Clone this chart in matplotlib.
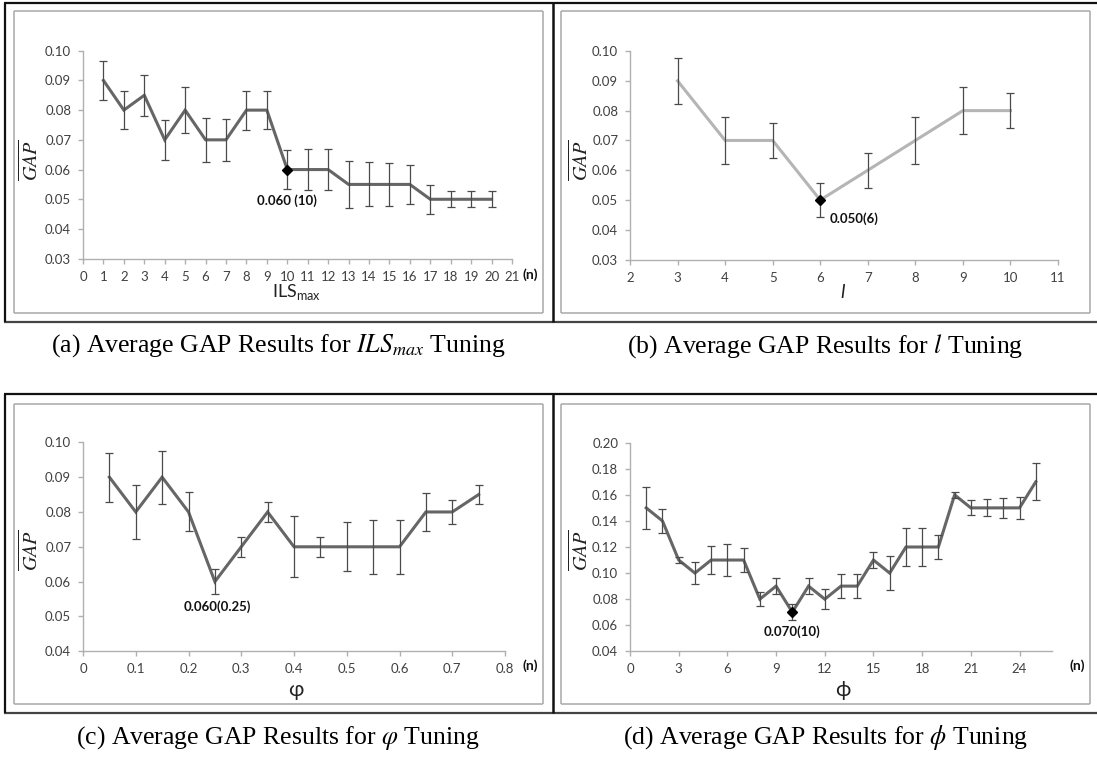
import matplotlib
matplotlib.use("Agg")
import matplotlib.pyplot as plt
from matplotlib.lines import Line2D
import numpy as np

W, H = 1097, 757

# ---------------- data ----------------
ils_x = list(range(1, 21))
ils_y = [0.09, 0.08, 0.085, 0.07, 0.08, 0.07, 0.07, 0.08, 0.08, 0.06,
         0.06, 0.06, 0.055, 0.055, 0.055, 0.055, 0.05, 0.05, 0.05, 0.05]
ils_err = [0.0065, 0.0065, 0.0069, 0.0067, 0.0078, 0.0073, 0.0071, 0.0066, 0.0063, 0.0066,
           0.0068, 0.0069, 0.0080, 0.0074, 0.0072, 0.0066, 0.0049, 0.0027, 0.0027, 0.0027]

l_x = [3, 4, 5, 6, 7, 8, 9, 10]
l_y = [0.09, 0.07, 0.07, 0.05, 0.06, 0.07, 0.08, 0.08]
l_err = [0.0077, 0.0078, 0.0059, 0.0058, 0.0059, 0.0078, 0.0078, 0.0058]

vphi_x = [0.05, 0.10, 0.15, 0.20, 0.25, 0.30, 0.35, 0.40, 0.45, 0.50, 0.55, 0.60, 0.65, 0.70, 0.75]
vphi_y = [0.09, 0.08, 0.09, 0.08, 0.06, 0.07, 0.08, 0.07, 0.07, 0.07, 0.07, 0.07, 0.08, 0.08, 0.085]
vphi_err = [0.0070, 0.0077, 0.0076, 0.0056, 0.0035, 0.0029, 0.0028, 0.0087, 0.0029, 0.0070,
            0.0077, 0.0077, 0.0055, 0.0035, 0.0028]

phi_x = list(range(1, 26))
phi_y = [0.15, 0.14, 0.11, 0.10, 0.11, 0.11, 0.11, 0.08, 0.09, 0.07, 0.09, 0.08, 0.09,
         0.09, 0.11, 0.10, 0.12, 0.12, 0.12, 0.16, 0.15, 0.15, 0.15, 0.15, 0.17]
phi_err = [0.0160, 0.0093, 0.0026, 0.0083, 0.0105, 0.0125, 0.0090, 0.0054, 0.0060, 0.0060,
           0.0060, 0.0077, 0.0092, 0.0092, 0.0063, 0.0128, 0.0147, 0.0143, 0.0090, 0.0023,
           0.0057, 0.0066, 0.0074, 0.0087, 0.0142]

ils_xticks = list(range(0, 22))
l_xticks = list(range(2, 12))
vphi_xticks = [0, 0.1, 0.2, 0.3, 0.4, 0.5, 0.6, 0.7, 0.8]
vphi_xticklabels = ["0", "0.1", "0.2", "0.3", "0.4", "0.5", "0.6", "0.7", "0.8"]
phi_xticks = [0, 3, 6, 9, 12, 15, 18, 21, 24]

fig = plt.figure(figsize=(W / 100, H / 100), dpi=100)

def fx(px):
    return px / W

def fy(py):
    return 1 - py / H

def hline(x0, x1, y, color, lw):
    fig.add_artist(Line2D([fx(x0), fx(x1)], [fy(y), fy(y)], color=color, lw=lw,
                          transform=fig.transFigure, solid_capstyle='butt'))

def vline(x, y0, y1, color, lw):
    fig.add_artist(Line2D([fx(x), fx(x)], [fy(y0), fy(y1)], color=color, lw=lw,
                          transform=fig.transFigure, solid_capstyle='butt'))

def box(x0, y0, x1, y1, color='#a8a8a8', lw=1.1):
    hline(x0, x1, y0, color, lw)
    hline(x0, x1, y1, color, lw)
    vline(x0, y0, y1, color, lw)
    vline(x1, y0, y1, color, lw)

# outer frames
for (top, bot) in [(3, 322), (394, 713)]:
    hline(4, 1097, top, '#111111', 1.6)
    hline(4, 1097, bot, '#444444', 1.6)
    vline(5, top, bot, '#111111', 1.6)
    vline(553, top, bot, '#111111', 1.8)

box(14, 11, 543, 313)
box(561, 11, 1090, 313)
box(14, 404, 543, 704)
box(561, 404, 1090, 704)

TICKFONT = ['Lato', 'DejaVu Sans']
TICKCOL = '#404040'

def make_ax(xpx0, xpx1, ypx_top, ypx_bot, xlim, ylim):
    ax = fig.add_axes([fx(xpx0), fy(ypx_bot), fx(xpx1) - fx(xpx0), fy(ypx_top) - fy(ypx_bot)])
    ax.set_xlim(*xlim)
    ax.set_ylim(*ylim)
    ax.patch.set_alpha(0)
    for s in ['top', 'right']:
        ax.spines[s].set_visible(False)
    for s in ['left', 'bottom']:
        ax.spines[s].set_color('#b0b0b0')
        ax.spines[s].set_linewidth(1.0)
    ax.tick_params(direction='out', length=3.5, width=1.0, color='#b0b0b0',
                   labelsize=9.5, labelcolor=TICKCOL, pad=5)
    return ax

def finish_ticks(ax, yticks):
    ax.set_yticks(yticks)
    ax.set_yticklabels([f"{v:.2f}" for v in yticks])
    for lab in ax.get_xticklabels() + ax.get_yticklabels():
        lab.set_family(TICKFONT)

def draw(ax, x, y, err, color):
    ax.plot(x, y, color=color, lw=2.2, solid_joinstyle='miter', zorder=2)
    ax.errorbar(x, y, yerr=err, fmt='none', ecolor='#4a4a4a', elinewidth=0.9,
                capsize=3.2, capthick=0.9, zorder=3)

LINE = '#666666'

# (a)
ax = make_ax(83, 512, 50.7, 258.7, (0, 21), (0.03, 0.10))
draw(ax, ils_x, ils_y, ils_err, LINE)
ax.plot([ils_x[9]], [ils_y[9]], marker='D', color='black', ms=5, zorder=4)
ax.set_xticks(ils_xticks)
finish_ticks(ax, [0.03, 0.04, 0.05, 0.06, 0.07, 0.08, 0.09, 0.10])
ax.text(10, 0.0497, "0.060 (10)", ha='center', va='center', fontsize=9.5,
        fontweight='bold', family=TICKFONT, color='#111111')

# (b)
ax = make_ax(630, 1058, 51, 259.7, (2, 11), (0.03, 0.10))
draw(ax, l_x, l_y, l_err, '#b5b5b5')
ax.plot([l_x[3]], [l_y[3]], marker='D', color='black', ms=5, zorder=4)
ax.set_xticks(l_xticks)
finish_ticks(ax, [0.03, 0.04, 0.05, 0.06, 0.07, 0.08, 0.09, 0.10])
ax.text(6.72, 0.0436, "0.050(6)", ha='center', va='center', fontsize=9.5,
        fontweight='bold', family=TICKFONT, color='#111111')

# (c)
ax = make_ax(83, 505, 442.3, 651.3, (0, 0.8), (0.04, 0.10))
draw(ax, vphi_x, vphi_y, vphi_err, LINE)
ax.set_xticks(vphi_xticks)
ax.set_xticklabels(vphi_xticklabels)
finish_ticks(ax, [0.04, 0.05, 0.06, 0.07, 0.08, 0.09, 0.10])
ax.text(0.255, 0.0528, "0.060(0.25)", ha='center', va='center', fontsize=9.5,
        fontweight='bold', family=TICKFONT, color='#111111')

# (d)
ax = make_ax(630, 1052, 442.7, 651.3, (0, 26), (0.04, 0.20))
draw(ax, phi_x, phi_y, phi_err, LINE)
ax.plot([phi_x[9]], [phi_y[9]], marker='D', color='black', ms=5, zorder=4)
ax.set_xticks(phi_xticks)
finish_ticks(ax, [0.04, 0.06, 0.08, 0.10, 0.12, 0.14, 0.16, 0.18, 0.20])
ax.text(10, 0.055, "0.070(10)", ha='center', va='center', fontsize=9.5,
        fontweight='bold', family=TICKFONT, color='#111111')

# y labels
for (x, y) in [(30, 160), (580, 160), (30, 550), (580, 550)]:
    fig.text(fx(x), fy(y), r'$\overline{GAP}$', rotation=90, ha='center', va='center',
             fontsize=14.5, math_fontfamily='stix', color='#222222')

# (n) markers
for (x, y) in [(530, 275), (530, 666), (1077, 666)]:
    fig.text(fx(x), fy(y), "(n)", ha='center', va='center', fontsize=10,
             fontweight='bold', family=TICKFONT, color='#111111')

# x labels
fig.text(fx(296), fy(297), r'ILS$_{\mathregular{max}}$', ha='center', va='baseline',
         fontsize=13, family=TICKFONT, color='#222222')
fig.text(fx(843), fy(293), 'l', ha='center', va='center', fontsize=14,
         style='italic', family=TICKFONT, color='#222222')
fig.text(fx(296), fy(690), '\u03c6', ha='center', va='center', fontsize=15,
         family=TICKFONT, color='#222222')
fig.text(fx(843), fy(690), '\u03d5', ha='center', va='center', fontsize=15,
         family=TICKFONT, color='#222222')

# captions
CAPF = 'Liberation Serif'
caps = [
    (278, 346, r'(a) Average GAP Results for $ILS_{max}$ Tuning'),
    (825, 346, r'(b) Average GAP Results for $l$ Tuning'),
    (278, 738, r'(c) Average GAP Results for $\varphi$ Tuning'),
    (826, 738, r'(d) Average GAP Results for $\phi$ Tuning'),
]
for (x, y, t) in caps:
    fig.text(fx(x), fy(y), t, ha='center', va='center', fontsize=18.5, family=CAPF,
             math_fontfamily='stix', color='black')

fig.savefig('out.png', dpi=100)
